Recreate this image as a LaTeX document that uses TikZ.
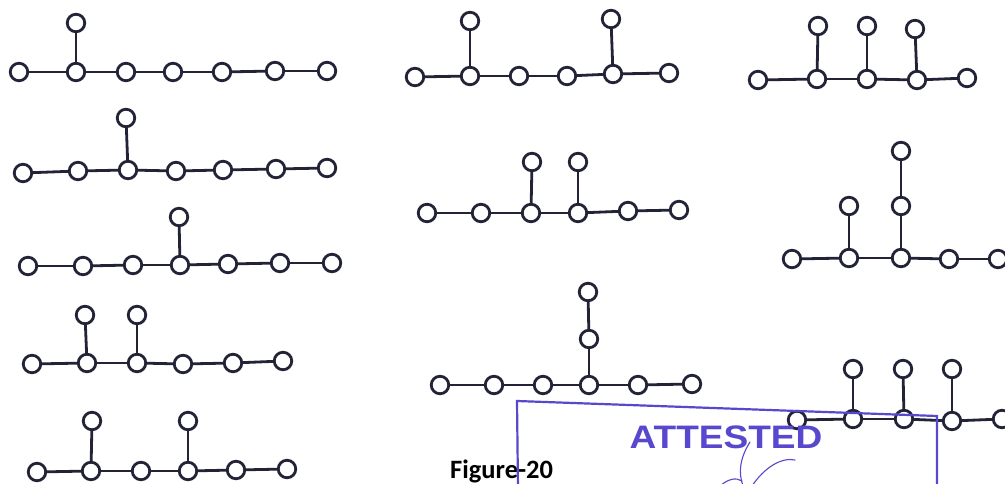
\documentclass[tikz,border=0pt]{standalone}
\usepackage{fontspec}
\newfontfamily\capfont{Carlito}
\newfontfamily\stampfont{Liberation Sans}
\definecolor{ink}{RGB}{35,35,55}
\definecolor{stampblue}{RGB}{88,72,205}
\begin{document}
\begin{tikzpicture}[x=1bp,y=-1bp,
  v/.style={circle,draw=ink,line width=2.8bp,fill=white,minimum size=17.5bp,inner sep=0pt},
  e/.style={draw=ink,line width=2.8bp},
  stampline/.style={draw=stampblue,line width=2.2bp},
  scribble/.style={draw=stampblue,line width=1.1bp,line cap=round}]
\useasboundingbox[fill=white] (0,0) rectangle (1005,484);

% tree 1
\foreach \n/\x/\y in {p1/19/72,p2/76/72,p3/126/72,p4/173/72,p5/222/72,p6/275/71,p7/327/71,p8/76/23}
  \node[v] (\n) at (\x,\y) {};
\foreach \a/\b in {p1/p2,p2/p3,p3/p4,p4/p5,p5/p6,p6/p7,p2/p8}
  \draw[e] (\a) -- (\b);

% tree 2
\foreach \n/\x/\y in {q1/415/77,q2/470/76,q3/519/76,q4/567/76,q5/613/74,q6/669/73,q7/470/21,q8/611/19}
  \node[v] (\n) at (\x,\y) {};
\foreach \a/\b in {q1/q2,q2/q3,q3/q4,q4/q5,q5/q6,q2/q7,q5/q8}
  \draw[e] (\a) -- (\b);

% tree 3
\foreach \n/\x/\y in {r1/758/80,r2/817/79,r3/867/79,r4/917/80,r5/967/78,r6/818/26,r7/867/26,r8/915/29}
  \node[v] (\n) at (\x,\y) {};
\foreach \a/\b in {r1/r2,r2/r3,r3/r4,r4/r5,r2/r6,r3/r7,r4/r8}
  \draw[e] (\a) -- (\b);

% tree 4
\foreach \n/\x/\y in {s1/23/173,s2/78/171,s3/128/170,s4/176/171,s5/223/170,s6/276/169,s7/327/168,s8/126/118}
  \node[v] (\n) at (\x,\y) {};
\foreach \a/\b in {s1/s2,s2/s3,s3/s4,s4/s5,s5/s6,s6/s7,s3/s8}
  \draw[e] (\a) -- (\b);

% tree 5
\foreach \n/\x/\y in {t1/427/213,t2/481/213,t3/531/213,t4/578/213,t5/628/211,t6/679/210,t7/532/162,t8/578/162}
  \node[v] (\n) at (\x,\y) {};
\foreach \a/\b in {t1/t2,t2/t3,t3/t4,t4/t5,t5/t6,t3/t7,t4/t8}
  \draw[e] (\a) -- (\b);

% tree 6
\foreach \n/\x/\y in {u1/792/259,u2/849/258,u3/901/258,u4/949/259,u5/998/259,u6/849/206,u7/901/206,u8/901/151}
  \node[v] (\n) at (\x,\y) {};
\foreach \a/\b in {u1/u2,u2/u3,u3/u4,u4/u5,u2/u6,u3/u7,u7/u8}
  \draw[e] (\a) -- (\b);

% tree 7
\foreach \n/\x/\y in {w1/28/266,w2/83/266,w3/133/265,w4/180/265,w5/228/264,w6/280/263,w7/332/263,w8/179/217}
  \node[v] (\n) at (\x,\y) {};
\foreach \a/\b in {w1/w2,w2/w3,w3/w4,w4/w5,w5/w6,w6/w7,w4/w8}
  \draw[e] (\a) -- (\b);

% tree 8
\foreach \n/\x/\y in {k1/32/364,k2/87/363,k3/137/363,k4/183/364,k5/233/363,k6/283/361,k7/85/315,k8/137/315}
  \node[v] (\n) at (\x,\y) {};
\foreach \a/\b in {k1/k2,k2/k3,k3/k4,k4/k5,k5/k6,k2/k7,k3/k8}
  \draw[e] (\a) -- (\b);

% tree 9
\foreach \n/\x/\y in {m1/440/385,m2/494/385,m3/543/385,m4/589/385,m5/638/385,m6/692/384,m7/589/339,m8/588/292}
  \node[v] (\n) at (\x,\y) {};
\foreach \a/\b in {m1/m2,m2/m3,m3/m4,m4/m5,m5/m6,m4/m7,m7/m8}
  \draw[e] (\a) -- (\b);

% tree 10
\foreach \n/\x/\y in {h1/37/472,h2/91/471,h3/141/471,h4/188/471,h5/236/470,h6/287/469,h7/92/421,h8/188/421}
  \node[v] (\n) at (\x,\y) {};
\foreach \a/\b in {h1/h2,h2/h3,h3/h4,h4/h5,h5/h6,h2/h7,h4/h8}
  \draw[e] (\a) -- (\b);

% tree 11
\foreach \n/\x/\y in {g1/797/420,g2/853/419,g3/904/419,g4/952/421,g5/1002/419,g6/853/369,g7/903/369,g8/952/369}
  \node[v] (\n) at (\x,\y) {};
\foreach \a/\b in {g1/g2,g2/g3,g3/g4,g4/g5,g2/g6,g3/g7,g4/g8}
  \draw[e] (\a) -- (\b);

% caption
\node[anchor=base west,inner sep=0pt,font=\capfont\bfseries\fontsize{26.5bp}{29bp}\selectfont,text=black] (cap) at (450,478) {Figure-20};

% stamp
\coordinate (stl) at (517,401);
\coordinate (str) at (937,416);
\coordinate (sbl) at (518,490);
\coordinate (sbr) at (937,490);
\draw[stampline] (sbl) -- (stl) -- (str) -- (sbr);
\node[inner sep=0pt,xscale=1.14,font=\stampfont\bfseries\fontsize{32.5bp}{35bp}\selectfont,text=stampblue] (stamp) at (726,437) {ATTESTED};
\draw[scribble] (750,442) .. controls (740,458) and (738,472) .. (743,486);
\draw[scribble] (795,460) .. controls (781,457) and (764,468) .. (752,486);
\draw[scribble] (720,486) .. controls (728,479) and (736,477) .. (742,481);
\end{tikzpicture}
\end{document}
